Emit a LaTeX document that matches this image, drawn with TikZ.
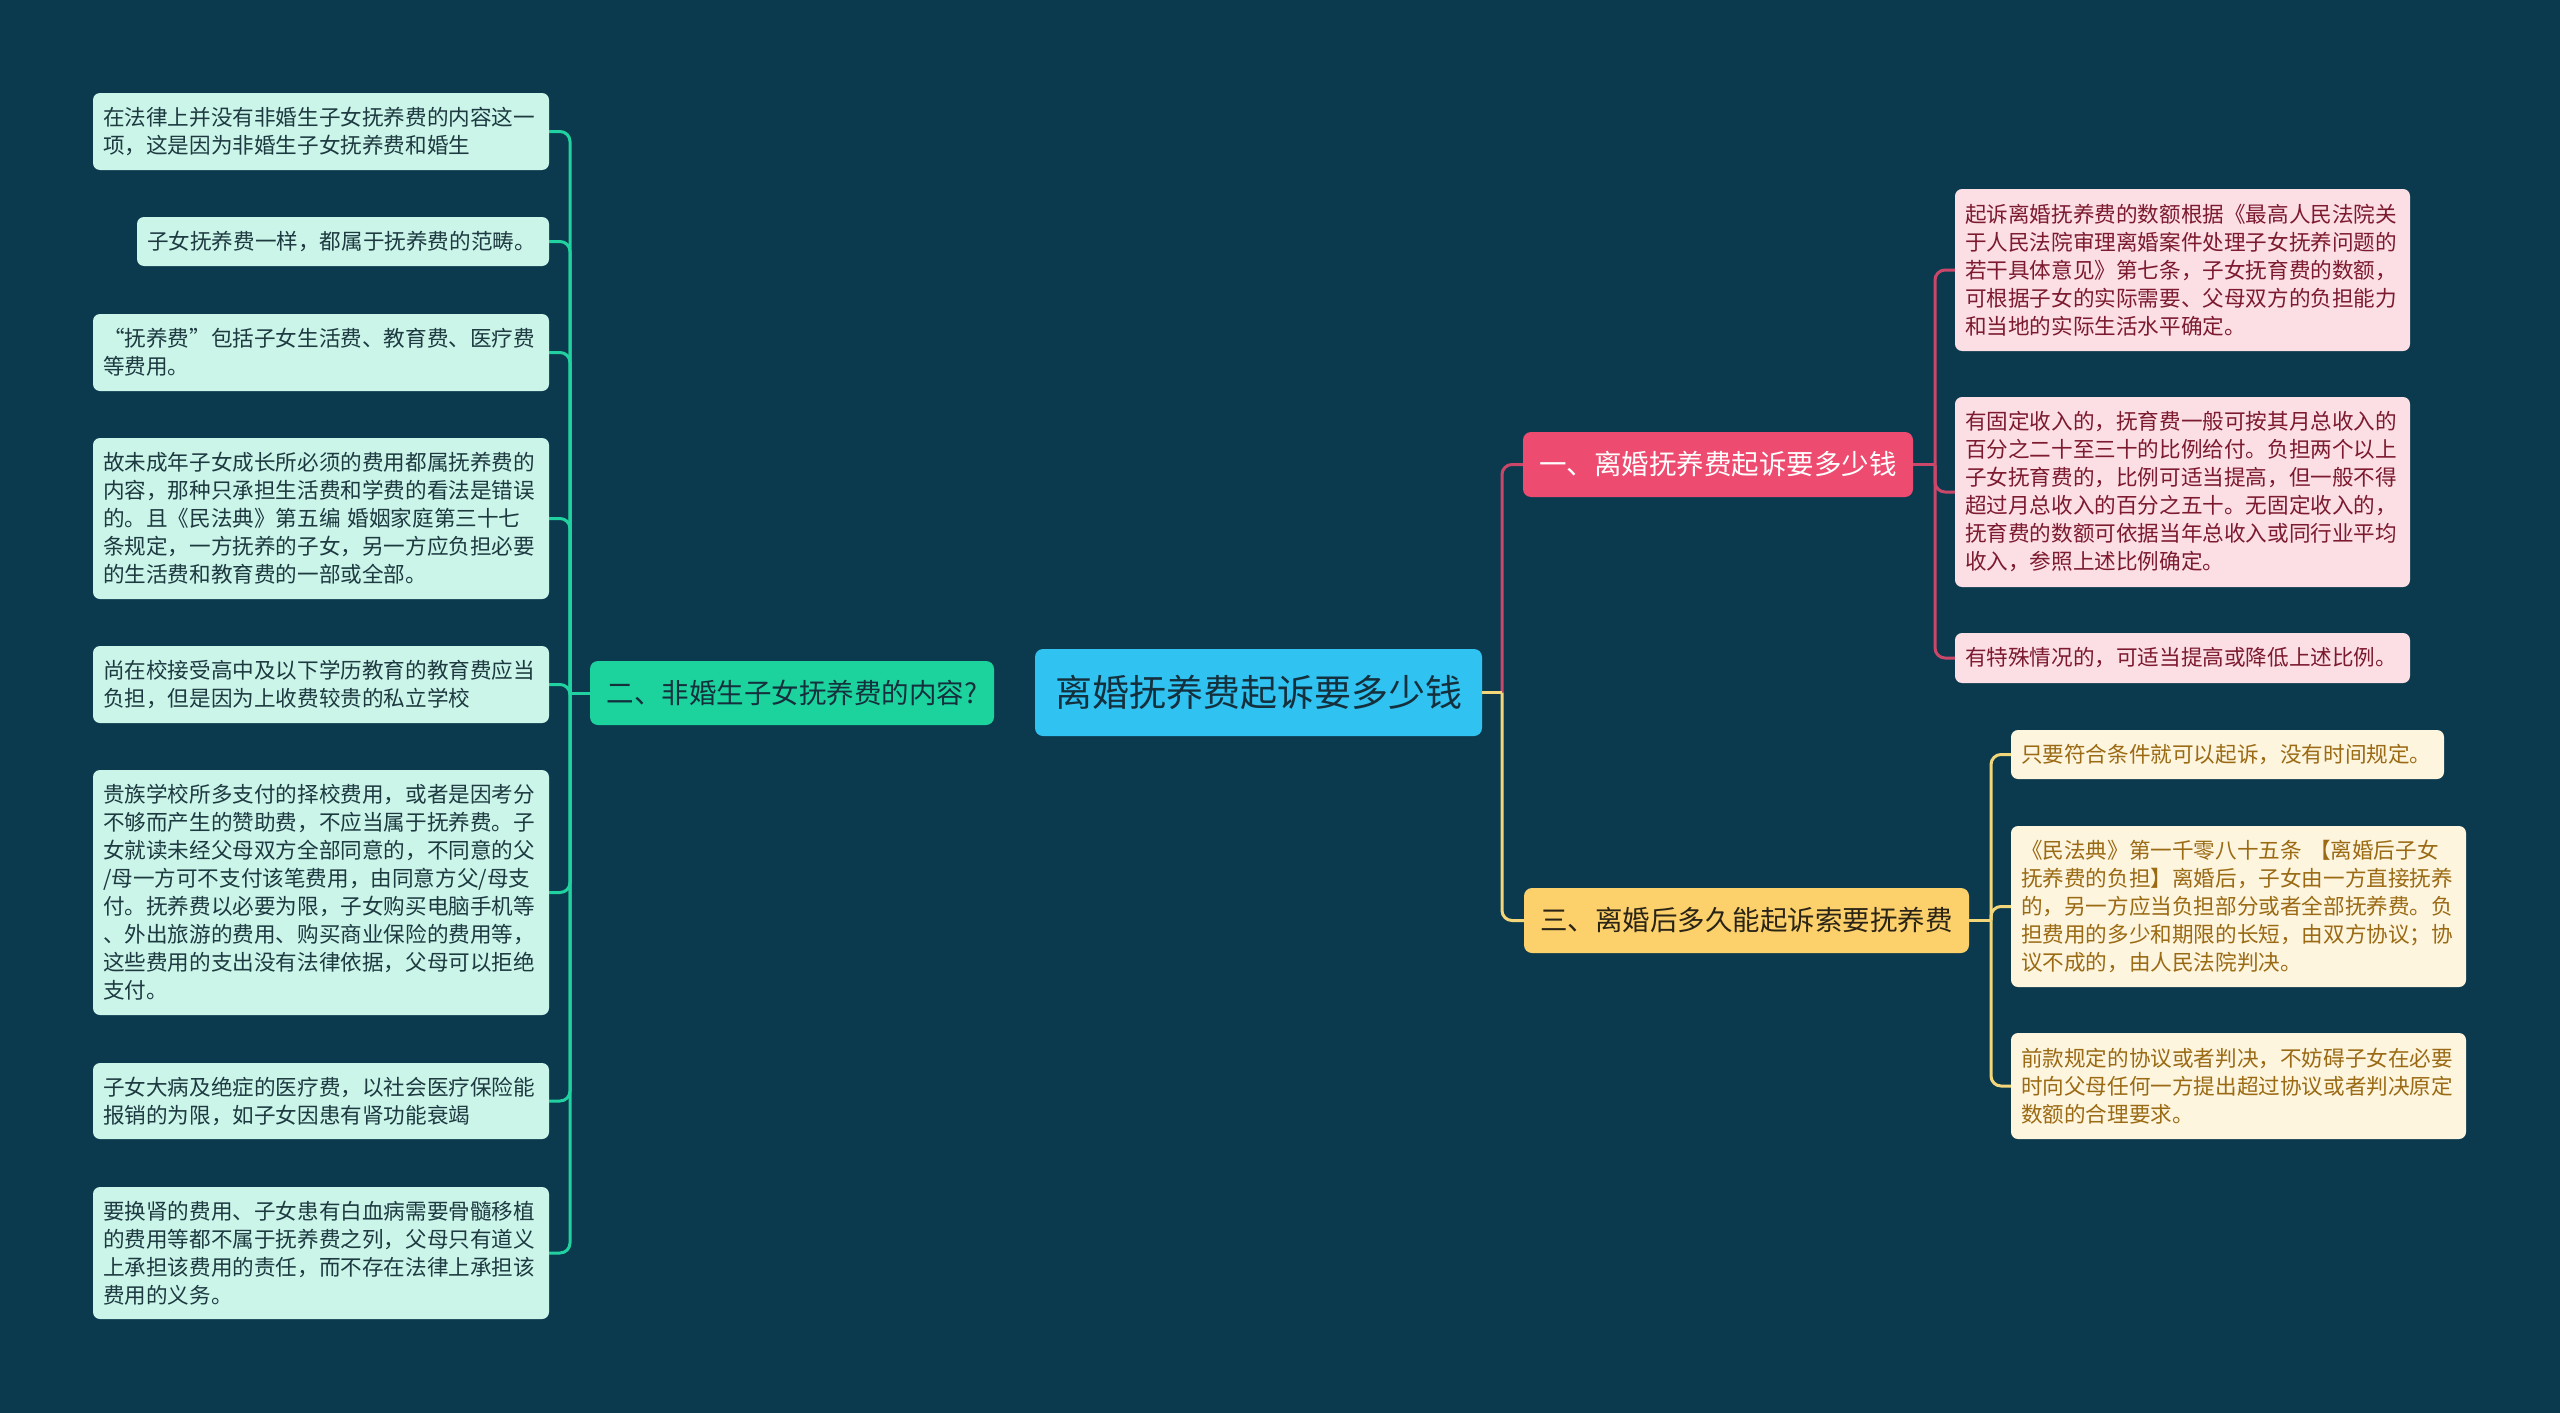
\documentclass[tikz,border=0pt]{standalone}
\usepackage{fontspec}
\setmainfont{Noto Sans CJK SC}
\definecolor{bgc}{HTML}{0B3A4E}
\definecolor{gleafc}{HTML}{CCF5EA}
\definecolor{gtext}{HTML}{1D3A40}
\definecolor{gline}{HTML}{22D1A0}
\definecolor{gbranch}{HTML}{1CD39E}
\definecolor{rootc}{HTML}{30C2F1}
\definecolor{roottext}{HTML}{14303D}
\definecolor{pbranch}{HTML}{EE4B70}
\definecolor{pline}{HTML}{CB476A}
\definecolor{pleafc}{HTML}{FCDFE5}
\definecolor{ptext}{HTML}{7C1A2F}
\definecolor{ybranch}{HTML}{FCD16B}
\definecolor{yline}{HTML}{F3D57A}
\definecolor{yleafc}{HTML}{FEF5DE}
\definecolor{ytext}{HTML}{9A6A14}
\definecolor{ybtext}{HTML}{2A2416}
\begin{document}
\begin{tikzpicture}[x=1pt,y=-1pt,
  leaf/.style={rectangle, rounded corners=7pt, inner xsep=10pt, inner ysep=0pt, align=left, font=\fontsize{21.6}{28}\selectfont},
  gleaf/.style={leaf, fill=gleafc, text=gtext},
  pleaf/.style={leaf, fill=pleafc, text=ptext},
  yleaf/.style={leaf, fill=yleafc, text=ytext},
  branchbox/.style={rectangle, rounded corners=8pt, inner sep=0pt, align=center, font=\fontsize{27.5}{32}\selectfont},
  conn/.style={line width=3pt, rounded corners=10pt},
]
\fill[bgc] (0,0) rectangle (2560,1413);
\useasboundingbox (0,0) rectangle (2560,1413);

% root and branches
\node[branchbox, fill=rootc, text=roottext, minimum width=447pt, minimum height=87pt, font=\fontsize{37}{40}\selectfont] (root) at (1258.5,692.5) {离婚抚养费起诉要多少钱};
\node[branchbox, fill=gbranch, text=roottext, minimum width=404pt, minimum height=64pt] (er) at (792,693) {二、非婚生子女抚养费的内容?};
\node[branchbox, fill=pbranch, text=white, minimum width=390pt, minimum height=65pt] (b1) at (1718,464.5) {一、离婚抚养费起诉要多少钱};
\node[branchbox, fill=ybranch, text=ybtext, minimum width=445pt, minimum height=65pt] (b3) at (1746.5,920.5) {三、离婚后多久能起诉索要抚养费};

% green leaves
\node[gleaf, text width=436pt, minimum height=77pt] (g1) at (321,131.5) {在法律上并没有非婚生子女抚养费的内容这一\\项，这是因为非婚生子女抚养费和婚生};
\node[gleaf, text width=392pt, minimum height=49pt] (g2) at (343,241.5) {子女抚养费一样，都属于抚养费的范畴。};
\node[gleaf, text width=436pt, minimum height=77pt] (g3) at (321,352.5) {“抚养费”包括子女生活费、教育费、医疗费\\等费用。};
\node[gleaf, text width=436pt, minimum height=161pt] (g4) at (321,518.5) {故未成年子女成长所必须的费用都属抚养费的\\内容，那种只承担生活费和学费的看法是错误\\的。且《民法典》第五编 婚姻家庭第三十七\\条规定，一方抚养的子女，另一方应负担必要\\的生活费和教育费的一部或全部。};
\node[gleaf, text width=436pt, minimum height=77pt] (g5) at (321,684.5) {尚在校接受高中及以下学历教育的教育费应当\\负担，但是因为上收费较贵的私立学校};
\node[gleaf, text width=436pt, minimum height=245pt] (g6) at (321,892.5) {贵族学校所多支付的择校费用，或者是因考分\\不够而产生的赞助费，不应当属于抚养费。子\\女就读未经父母双方全部同意的，不同意的父\\/母一方可不支付该笔费用，由同意方父/母支\\付。抚养费以必要为限，子女购买电脑手机等\\、外出旅游的费用、购买商业保险的费用等，\\这些费用的支出没有法律依据，父母可以拒绝\\支付。};
\node[gleaf, text width=436pt, minimum height=76pt] (g7) at (321,1101) {子女大病及绝症的医疗费，以社会医疗保险能\\报销的为限，如子女因患有肾功能衰竭};
\node[gleaf, text width=436pt, minimum height=132pt] (g8) at (321,1253) {要换肾的费用、子女患有白血病需要骨髓移植\\的费用等都不属于抚养费之列，父母只有道义\\上承担该费用的责任，而不存在法律上承担该\\费用的义务。};

% pink leaves
\node[pleaf, text width=435pt, minimum height=162pt] (p1) at (2182.5,270) {起诉离婚抚养费的数额根据《最高人民法院关\\于人民法院审理离婚案件处理子女抚养问题的\\若干具体意见》第七条，子女抚育费的数额，\\可根据子女的实际需要、父母双方的负担能力\\和当地的实际生活水平确定。};
\node[pleaf, text width=435pt, minimum height=190pt] (p2) at (2182.5,492) {有固定收入的，抚育费一般可按其月总收入的\\百分之二十至三十的比例给付。负担两个以上\\子女抚育费的，比例可适当提高，但一般不得\\超过月总收入的百分之五十。无固定收入的，\\抚育费的数额可依据当年总收入或同行业平均\\收入，参照上述比例确定。};
\node[pleaf, text width=435pt, minimum height=50pt] (p3) at (2182.5,658) {有特殊情况的，可适当提高或降低上述比例。};

% yellow leaves
\node[yleaf, text width=413pt, minimum height=49pt] (y1) at (2227.5,754.5) {只要符合条件就可以起诉，没有时间规定。};
\node[yleaf, text width=435pt, minimum height=161pt] (y2) at (2238.5,906.5) {《民法典》第一千零八十五条 【离婚后子女\\抚养费的负担】离婚后，子女由一方直接抚养\\的，另一方应当负担部分或者全部抚养费。负\\担费用的多少和期限的长短，由双方协议；协\\议不成的，由人民法院判决。};
\node[yleaf, text width=435pt, minimum height=106pt] (y3) at (2238.5,1086) {前款规定的协议或者判决，不妨碍子女在必要\\时向父母任何一方提出超过协议或者判决原定\\数额的合理要求。};

% junctions
\coordinate (gj) at (570,693);
\coordinate (rj) at (1502,692.5);
\coordinate (pj) at (1935,464.5);
\coordinate (yj) at (1991,920.5);

% green connectors
\draw[conn, gline] (er.west) -- (gj);
\foreach \n in {g1,g2,g3,g4,g5,g6,g7,g8}
  \draw[conn, gline] (gj) |- (\n.east);

% root to branches
\draw[conn, pline] (rj) |- (b1.west);
\draw[conn, yline] (rj) |- (b3.west);
\draw[conn, yline] (root.east) -- (rj);

% pink connectors
\draw[conn, pline] (b1.east) -- (pj);
\foreach \n in {p1,p2,p3}
  \draw[conn, pline] (pj) |- (\n.west);

% yellow connectors
\draw[conn, yline] (b3.east) -- (yj);
\foreach \n in {y1,y2,y3}
  \draw[conn, yline] (yj) |- (\n.west);
\end{tikzpicture}
\end{document}
